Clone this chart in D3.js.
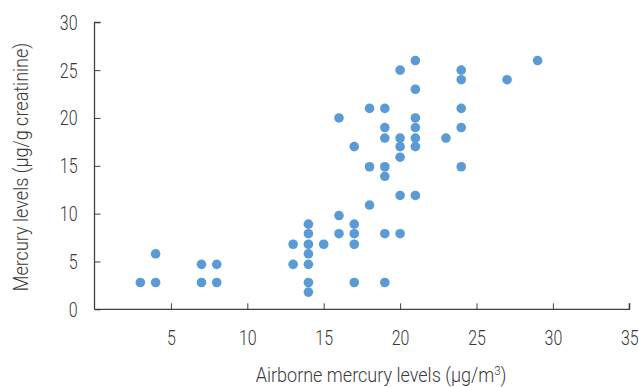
<!DOCTYPE html>
<html>
<head>
<meta charset="utf-8">
<script src="https://cdn.jsdelivr.net/npm/d3@7"></script>
<style>
  body { margin: 0; background: #fff; }
  text { font-family: Roboto, "Liberation Sans", sans-serif; font-weight: 300; fill: #3a3a3a; }
</style>
</head>
<body>
<div id="chart"></div>
<script>
// airborne mercury (µg/m3) and urinary mercury (µg/g creatinine), one pair per worker
const airborne = [
    3, 4, 4, 7, 7, 8, 8, 13, 13,
    14, 14, 14, 14, 14, 14, 14, 15,
    16, 16, 16, 17, 17, 17, 17, 17,
    18, 18, 18, 19, 19, 19, 19, 19, 19, 19,
    20, 20, 20, 20, 20, 20,
    21, 21, 21, 21, 21, 21, 21,
    23, 24, 24, 24, 24, 24, 27, 29
];
const urinary = [
    2.8, 2.8, 5.8, 4.7, 2.8, 4.7, 2.8, 6.8, 4.7,
    8.9, 7.9, 6.8, 5.8, 4.7, 2.8, 1.8, 6.8,
    9.8, 7.9, 20, 8.9, 7.9, 6.8, 2.8, 17,
    10.9, 21, 14.9, 21, 19, 17.9, 14.9, 13.9, 7.9, 2.8,
    25, 17.9, 17, 15.9, 11.9, 7.9,
    26, 23, 20, 19, 17.9, 17, 11.9,
    17.9, 25, 24, 21, 19, 14.9, 24, 26
];
const xTicks = [5, 10, 15, 20, 25, 30, 35];
const yTicks = [0, 5, 10, 15, 20, 25, 30];

const WIDTH = 639;
const HEIGHT = 387;
const AXIS_COLOR = '#404040';
const DOT_COLOR = '#5b9bd5';
const NARROW = 0.82; // squeeze text to look like a condensed face
const TITLE_NARROW = 0.88;

const svg = d3.select('#chart').append('svg')
    .attr('width', WIDTH)
    .attr('height', HEIGHT);

const x = d3.scaleLinear().domain([0, 35]).range([94.5, 629.3]);
const y = d3.scaleLinear().domain([0, 30]).range([309.3, 22.3]);

// y axis, ticks pointing inward
const yAxis = svg.append('g')
    .attr('transform', `translate(${x(0)},0)`)
    .call(d3.axisRight(y).tickValues(yTicks).tickSize(6).tickFormat(d3.format('d')));
yAxis.select('.domain').attr('d', `M6,${y(30)}H0V${y(0)}`);
yAxis.selectAll('line').attr('stroke', AXIS_COLOR);
yAxis.select('.domain').attr('stroke', AXIS_COLOR).attr('stroke-width', 1.3);
yAxis.selectAll('text')
    .attr('x', -17 / NARROW)
    .attr('dy', '0.36em')
    .attr('text-anchor', 'end')
    .attr('transform', `scale(${NARROW},1)`)
    .style('font-size', '19.5px');

// x axis, ticks pointing up
const xAxis = svg.append('g')
    .attr('transform', `translate(0,${y(0)})`)
    .call(d3.axisTop(x).tickValues(xTicks).tickSize(6).tickFormat(d3.format('d')));
xAxis.select('.domain').attr('d', `M${x(0)},0H${x(35)}V-6`)
    .attr('stroke', AXIS_COLOR).attr('stroke-width', 1.3);
xAxis.selectAll('line').attr('stroke', AXIS_COLOR);
xAxis.selectAll('text')
    .attr('y', 36)
    .attr('dy', 0)
    .attr('text-anchor', 'middle')
    .attr('transform', `scale(${NARROW},1)`)
    .style('font-size', '19.5px');
svg.selectAll('.domain').attr('fill', 'none');

svg.selectAll('circle')
    .data(airborne)
    .join('circle')
    .attr('cx', d => x(d))
    .attr('cy', (d, i) => y(urinary[i]))
    .attr('r', 4.8)
    .attr('fill', DOT_COLOR);

// axis titles
const xTitle = svg.append('g')
    .attr('transform', `translate(381,382) scale(${TITLE_NARROW},1)`)
    .append('text')
    .attr('text-anchor', 'middle')
    .style('font-size', '20.5px');
xTitle.append('tspan').text('Airborne mercury levels (μg/m');
xTitle.append('tspan').attr('dy', -7).style('font-size', '13px').text('3');
xTitle.append('tspan').attr('dy', 7).text(')');

svg.append('g')
    .attr('transform', `translate(28,167) rotate(-90) scale(${TITLE_NARROW},1)`)
    .append('text')
    .attr('text-anchor', 'middle')
    .style('font-size', '20.5px')
    .text('Mercury levels (μg/g creatinine)');
</script>
</body>
</html>
